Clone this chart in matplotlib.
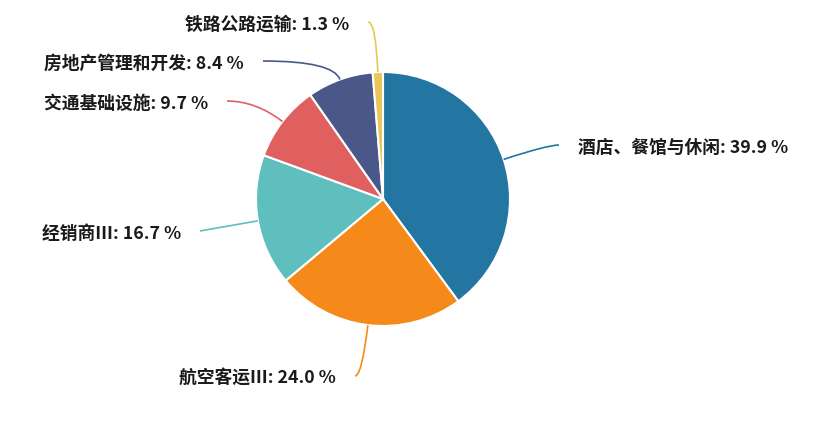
import numpy as np
import matplotlib
matplotlib.use("Agg")
import matplotlib.pyplot as plt
from matplotlib.path import Path
from matplotlib.patches import PathPatch

plt.rcParams['font.family'] = ['Noto Sans CJK SC', 'DejaVu Sans']

# data
labels = ['酒店、餐馆与休闲', '航空客运Ⅲ', '经销商Ⅲ', '交通基础设施', '房地产管理和开发', '铁路公路运输']
shares = [39.9, 24.0, 16.7, 9.7, 8.4, 1.3]
colors = ['#2376a2', '#f58a1a', '#5fbfbf', '#e06060', '#4a5889', '#e8c65a']

# layout (pixels, y down as in the picture)
W, H = 831, 427
cx, cy, R = 383, 200, 127
# where each leader line ends
line_ends = [(559, 146), (355, 377), (200, 232), (227, 102), (263, 62), (368, 23)]
gap = 19

fig = plt.figure(figsize=(W / 100, H / 100), dpi=100)
ax = fig.add_axes([0, 0, 1, 1])

wedges, _ = ax.pie(shares, colors=colors, startangle=90, counterclock=False,
                   center=(cx, H - cy), radius=R,
                   wedgeprops=dict(edgecolor='white', linewidth=1.5))
ax.set_xlim(0, W)
ax.set_ylim(0, H)
ax.set_aspect('equal')
ax.axis('off')

total = sum(shares)
cum = 0
for lab, val, col, (ex, ey) in zip(labels, shares, colors, line_ends):
    mid = np.deg2rad(90 - (cum + val / 2) / total * 360)
    cum += val
    ca, sa = np.cos(mid), np.sin(mid)
    sx, sy = cx + R * ca, cy - R * sa
    # control point: radial line meets the horizontal of the line end
    r2 = (cy - ey) / sa if abs(sa) > 1e-6 else R + 20
    kx, ky = cx + r2 * ca, ey
    p = Path([(sx, H - sy), (kx, H - ky), (ex, H - ey)],
             [Path.MOVETO, Path.CURVE3, Path.CURVE3])
    ax.add_patch(PathPatch(p, fill=False, edgecolor=col, linewidth=1.2))
    if ca >= 0:
        tx, ha = ex + gap, 'left'
    else:
        tx, ha = ex - gap, 'right'
    ax.text(tx, H - ey - 2, f'{lab}: {val:.1f} %', ha=ha, va='center',
            fontsize=12.8, color='#1a1a1a', fontweight='bold')

fig.savefig('out.png', dpi=100, facecolor='white')
